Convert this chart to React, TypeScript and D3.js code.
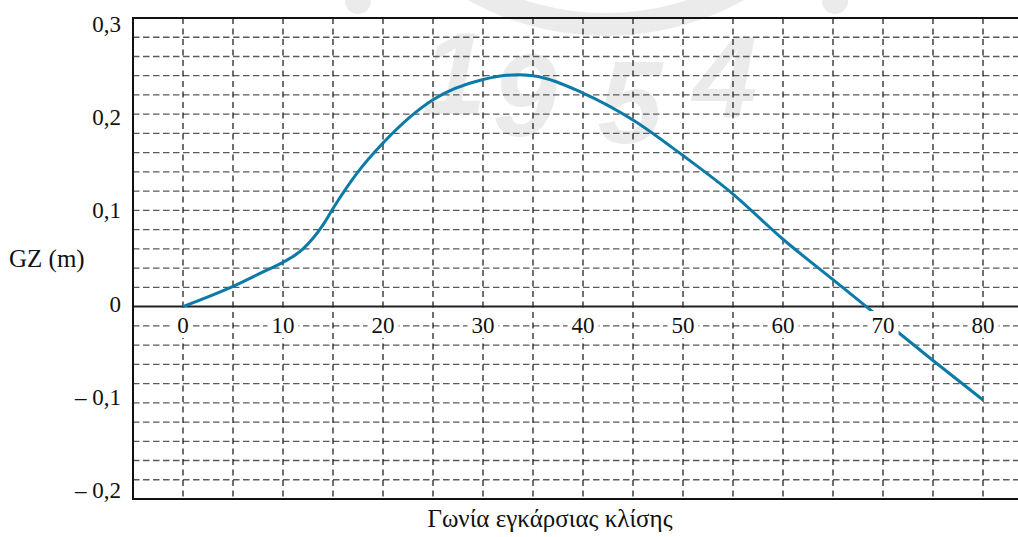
import React from 'react';
import * as d3 from 'd3';

// angle of heel (degrees) and GZ righting arm (m)
const angles = [0, 5, 8, 10, 11, 12, 13, 14, 15, 17.5, 20, 25, 30, 33.5, 35, 40, 45, 50, 55, 60, 65, 70, 75, 80];
const gzValues = [0, 0.021, 0.036, 0.046, 0.052, 0.06, 0.071, 0.085, 0.102, 0.14, 0.17, 0.215, 0.236, 0.241, 0.24, 0.222, 0.194, 0.157, 0.117, 0.07, 0.028, -0.014, -0.056, -0.097];

const xTicks = [0, 10, 20, 30, 40, 50, 60, 70, 80];
const yTicks = [0.3, 0.2, 0.1, 0, -0.1, -0.2];
const yTickLabels = ['0,3', '0,2', '0,1', '0', '– 0,1', '– 0,2'];
const watermarkDigits = ['1', '9', '5', '4'];

const W = 1018;
const H = 537;
const serif = '"Liberation Serif", "Times New Roman", serif';

function App() {
  const x = d3.scaleLinear().domain([-5, 85]).range([133, 1033]);
  const y = d3.scaleLinear().domain([-0.2, 0.3]).range([499, 18]);
  // tick labels sit a little off the gridlines in the original
  const yLabel = d3.scaleLinear().domain([-0.2, 0.3]).range([498, 32]);

  const vGrid = d3.range(0, 17).map((i) => i * 5);
  const hGrid = d3.range(-9, 15).map((i) => i * 0.02).filter((v) => Math.abs(v) > 1e-9);

  const line = d3
    .line<number>()
    .x((_, i) => x(angles[i]))
    .y((d) => y(d))
    .curve(d3.curveMonotoneX);

  const ring = d3.arc()({
    innerRadius: 260,
    outerRadius: 283,
    startAngle: Math.PI - 0.55,
    endAngle: Math.PI + 0.55,
  } as any);

  const wmX = [454, 525, 630, 725];
  const wmBase = [114, 136, 143, 117];

  return (
    <svg
      width={W}
      height={H}
      style={{ position: 'absolute', left: 0, top: 0, background: '#fff' }}
    >
      {/* faint watermark */}
      <g fill="#ebebeb">
        <path d={ring || ''} transform="translate(606,-247)" />
        <circle cx={358} cy={1} r={13} />
        <circle cx={835} cy={1} r={13} />
        {watermarkDigits.map((d, i) => (
          <text
            key={d}
            x={wmX[i]}
            y={wmBase[i]}
            textAnchor="middle"
            fontFamily='"Liberation Sans", Arial, sans-serif'
            fontWeight="bold"
            fontStyle="italic"
            fontSize={116}
          >
            {d}
          </text>
        ))}
      </g>

      {/* grid */}
      {hGrid.map((v) => (
        <line
          key={'h' + v}
          x1={x(-5)}
          x2={W}
          y1={y(v)}
          y2={y(v)}
          stroke="#5a5a5a"
          strokeWidth={1.3}
          strokeDasharray="6.5,3.5"
        />
      ))}
      {vGrid.map((v) => (
        <line
          key={'v' + v}
          x1={x(v)}
          x2={x(v)}
          y1={y(0.3)}
          y2={y(-0.2)}
          stroke="#111"
          strokeWidth={1.2}
          strokeDasharray="6,4.5"
        />
      ))}

      {/* zero line and frame */}
      <line x1={x(-5)} x2={W} y1={y(0)} y2={y(0)} stroke="#222" strokeWidth={2} />
      <line x1={x(-5)} x2={W} y1={y(0.3)} y2={y(0.3)} stroke="#111" strokeWidth={2} />
      <line x1={x(-5)} x2={W} y1={y(-0.2)} y2={y(-0.2)} stroke="#111" strokeWidth={2} />
      <line x1={x(-5)} x2={x(-5)} y1={y(0.3) - 1} y2={y(-0.2) + 1} stroke="#111" strokeWidth={2} />

      {/* GZ curve */}
      <path d={line(gzValues) || ''} fill="none" stroke="#0b7aa9" strokeWidth={3} />

      {/* x tick labels on white boxes */}
      {xTicks.map((t) => {
        const w = t === 0 ? 20 : 31;
        return (
          <g key={'xt' + t}>
            <rect x={x(t) - w / 2} y={311} width={w} height={27} fill="#fff" />
            <text x={x(t)} y={333} textAnchor="middle" fontFamily={serif} fontSize={23} fill="#111">
              {t}
            </text>
          </g>
        );
      })}

      {/* y tick labels */}
      {yTicks.map((t, i) => (
        <text
          key={'yt' + t}
          x={121}
          y={yLabel(t)}
          textAnchor="end"
          fontFamily={serif}
          fontSize={23}
          fill="#111"
        >
          {yTickLabels[i]}
        </text>
      ))}

      <text x={9} y={267} fontFamily={serif} fontSize={25} fill="#111">
        GZ (m)
      </text>
      <text x={550} y={527} textAnchor="middle" fontFamily={serif} fontSize={25} fill="#111">
        Γωνία εγκάρσιας κλίσης
      </text>
    </svg>
  );
}

export default App;
